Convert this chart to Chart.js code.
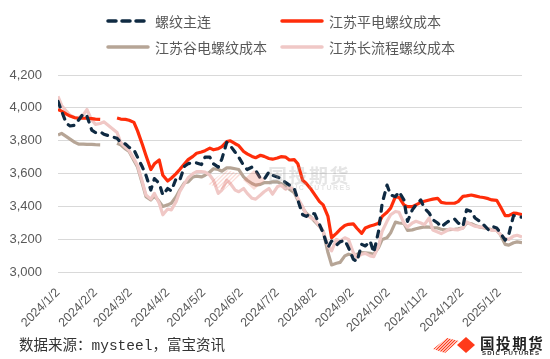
<!DOCTYPE html>
<html>
<head>
<meta charset="utf-8">
<script src="https://cdn.jsdelivr.net/npm/chart.js@4.4.1/dist/chart.umd.min.js"></script>
<style>
  html, body { margin: 0; padding: 0; background: #fff; }
  #wrap { position: relative; width: 550px; height: 359px; overflow: hidden; }
  #c { position: absolute; left: 0; top: 0; }
  .lg { position: absolute; height: 20px; display: flex; align-items: center;
        font-family: "Noto Sans CJK SC", sans-serif; font-size: 14px; color: #595959; white-space: nowrap; }
  .lg svg { margin-right: 4px; }
  #src { position: absolute; left: 19px; top: 337px; font-family: "Liberation Mono", "Noto Sans CJK SC", monospace;
         font-size: 14.5px; color: #333; white-space: nowrap; line-height: 18px; }
  #logo { position: absolute; left: 432px; top: 334px; width: 118px; height: 25px; }
  #logo .cn { position: absolute; left: 48px; top: 0px; font-family: "Noto Sans CJK SC", sans-serif; font-weight: 700;
              font-size: 14.5px; letter-spacing: 1.6px; color: #222; line-height: 17px; white-space: nowrap; }
  #logo .en { position: absolute; left: 50px; top: 16px; font-family: "Liberation Sans", sans-serif; font-weight: 700;
              font-size: 6px; letter-spacing: 1.15px; color: #222; line-height: 7px; white-space: nowrap; }
  #wm { position: absolute; left: 206px; top: 164px; width: 150px; height: 30px; opacity: 0.28; pointer-events: none; }
  #wm .cn { position: absolute; left: 62px; top: 0px; font-family: "Noto Sans CJK SC", sans-serif; font-weight: 700;
            font-size: 19px; letter-spacing: 1.5px; color: #a0a0a0; line-height: 22px; white-space: nowrap; }
  #wm .en { position: absolute; left: 77px; top: 20px; font-family: "Liberation Sans", sans-serif; font-weight: 700;
            font-size: 7px; letter-spacing: 1.4px; color: #a0a0a0; line-height: 8px; white-space: nowrap; }
</style>
</head>
<body>
<div id="wrap">
  <canvas id="c" width="550" height="359"></canvas>

  <div class="lg" style="left:105px; top:11px;">
    <svg width="46" height="8"><line x1="3" y1="4" x2="43" y2="4" stroke="#0f2a42" stroke-width="3.5" stroke-linecap="round" stroke-dasharray="8,6"/></svg>螺纹主连</div>
  <div class="lg" style="left:279px; top:11px;">
    <svg width="46" height="8"><line x1="3" y1="4" x2="43" y2="4" stroke="#ff2d0a" stroke-width="3.5" stroke-linecap="round"/></svg>江苏平电螺纹成本</div>
  <div class="lg" style="left:105px; top:37px;">
    <svg width="46" height="8"><line x1="3" y1="4" x2="43" y2="4" stroke="#b6a596" stroke-width="3.5" stroke-linecap="round"/></svg>江苏谷电螺纹成本</div>
  <div class="lg" style="left:279px; top:37px;">
    <svg width="46" height="8"><line x1="3" y1="4" x2="43" y2="4" stroke="#f0c8c6" stroke-width="3.5" stroke-linecap="round"/></svg>江苏长流程螺纹成本</div>

  <div id="wm">
    <svg width="60" height="30" style="position:absolute;left:0;top:0">
      <defs><clipPath id="wclip"><polygon points="2,20 20,6 36,10 18,26"/></clipPath></defs>
      <g clip-path="url(#wclip)" stroke="#f08070" stroke-width="1.3">
        <line x1="-10" y1="30" x2="20" y2="0"/><line x1="-6" y1="30" x2="24" y2="0"/><line x1="-2" y1="30" x2="28" y2="0"/>
        <line x1="2" y1="30" x2="32" y2="0"/><line x1="6" y1="30" x2="36" y2="0"/><line x1="10" y1="30" x2="40" y2="0"/>
        <line x1="14" y1="30" x2="44" y2="0"/><line x1="18" y1="30" x2="48" y2="0"/>
      </g>
      <polygon points="48,6 59,16 48,26 37,16" fill="#f08070"/>
    </svg>
    <div class="cn">国投期货</div>
    <div class="en">SDIC FUTURES</div>
  </div>

  <div id="src">数据来源：mysteel，富宝资讯</div>

  <div id="logo">
    <svg width="46" height="20" style="position:absolute;left:0;top:2px">
      <defs><clipPath id="lclip"><polygon points="1,13 15,2 27,5 13,17"/></clipPath></defs>
      <g clip-path="url(#lclip)" stroke="#ff3a1a" stroke-width="1.2">
        <line x1="-8" y1="20" x2="12" y2="0"/><line x1="-5" y1="20" x2="15" y2="0"/><line x1="-2" y1="20" x2="18" y2="0"/>
        <line x1="1" y1="20" x2="21" y2="0"/><line x1="4" y1="20" x2="24" y2="0"/><line x1="7" y1="20" x2="27" y2="0"/>
        <line x1="10" y1="20" x2="30" y2="0"/><line x1="13" y1="20" x2="33" y2="0"/><line x1="16" y1="20" x2="36" y2="0"/>
      </g>
      <polygon points="34,1 43,9 34,17 25,9" fill="#ff3a1a"/>
    </svg>
    <div class="cn">国投期货</div>
    <div class="en">SDIC FUTURES</div>
  </div>
</div>

<script>
const dates = [
  "2024-01-02","2024-01-05","2024-01-09","2024-01-12","2024-01-16","2024-01-19","2024-01-23","2024-01-26","2024-01-30",
  "2024-02-02","2024-02-06","2024-02-09","2024-02-13","2024-02-16","2024-02-20","2024-02-23","2024-02-27",
  "2024-03-01","2024-03-05","2024-03-08","2024-03-12","2024-03-15","2024-03-19","2024-03-22","2024-03-26","2024-03-29",
  "2024-04-02","2024-04-05","2024-04-09","2024-04-12","2024-04-16","2024-04-19","2024-04-23","2024-04-26","2024-04-30",
  "2024-05-03","2024-05-07","2024-05-10","2024-05-14","2024-05-17","2024-05-21","2024-05-24","2024-05-28","2024-05-31",
  "2024-06-04","2024-06-07","2024-06-11","2024-06-14","2024-06-18","2024-06-21","2024-06-25","2024-06-28",
  "2024-07-02","2024-07-05","2024-07-09","2024-07-12","2024-07-16","2024-07-19","2024-07-23","2024-07-26","2024-07-30",
  "2024-08-02","2024-08-06","2024-08-09","2024-08-13","2024-08-16","2024-08-20","2024-08-23","2024-08-27","2024-08-30",
  "2024-09-03","2024-09-06","2024-09-10","2024-09-13","2024-09-17","2024-09-20","2024-09-24","2024-09-27",
  "2024-10-01","2024-10-04","2024-10-08","2024-10-11","2024-10-15","2024-10-18","2024-10-22","2024-10-25","2024-10-29",
  "2024-11-01","2024-11-05","2024-11-08","2024-11-12","2024-11-15","2024-11-19","2024-11-22","2024-11-26","2024-11-29",
  "2024-12-03","2024-12-06","2024-12-10","2024-12-13","2024-12-17","2024-12-20","2024-12-24","2024-12-27","2024-12-31",
  "2025-01-03","2025-01-07","2025-01-10","2025-01-14","2025-01-17","2025-01-21"
];

// 螺纹主连
const rebarMain = [
  4040,3980,3905,3890,3895,3925,3965,3950,3865,
  3850,3855,3840,null,null,3815,3790,3780,
  3760,3745,3700,3640,3590,3500,3570,3540,3470,
  3510,3495,3570,3560,3645,3660,3668,3665,3655,
  3700,3700,3660,3640,3690,3790,3770,3730,3700,
  3650,3625,3640,3620,3570,3565,3610,3590,
  3580,3570,3545,3530,3510,3440,3350,3340,3360,
  3355,3290,3240,3150,3190,3165,3185,3195,3150,
  3080,3065,3170,3160,3190,3120,3250,3420,
  3530,3470,3460,3490,3440,3310,3380,3410,3440,
  3390,3360,3320,3300,3275,3300,3315,3325,3300,
  3280,3380,3370,3330,3310,3290,3260,3280,3270,
  3240,3195,3230,3345,3340,3335
];

// 江苏平电螺纹成本
const flatPowerCost = [
  3991,3980,3962,3950,3940,3937,3937,3937,3935,
  3932,3930,null,null,null,3938,3932,3930,
  3925,3912,3860,3777,3710,3625,3660,3683,3590,
  3555,3572,3600,3625,3660,3685,3705,3724,3732,
  3740,3755,3745,3752,3765,3795,3800,3782,3770,
  3735,3720,3705,3697,3712,3705,3692,3688,
  3695,3703,3700,3683,3685,3660,3560,3540,3505,
  3472,3430,3410,3340,3210,3237,3260,3285,3292,
  3295,3268,3237,3270,3282,3288,3298,3340,
  3365,3390,3460,3455,3410,3399,3399,3410,3425,
  3432,3440,3445,3450,3425,3420,3420,3420,3430,
  3462,3465,3470,3465,3458,3455,3448,3440,3438,
  3400,3345,3345,3360,3358,3350
];

// 江苏谷电螺纹成本
const valleyPowerCost = [
  3835,3845,3825,3810,3790,3780,3780,3778,3778,
  3776,3775,null,null,null,3785,3775,3750,
  3735,3680,3640,3540,3460,3440,3465,3430,3400,
  3410,3420,3460,3500,3545,3550,3580,3585,3580,
  3590,3610,3630,3625,3615,3635,3635,3630,3625,
  3580,3560,3540,3530,3535,3545,3545,3550,
  3550,3540,3522,3505,3485,3440,3390,3360,3335,
  3310,3280,3250,3120,3045,3055,3060,3100,3110,
  3105,3110,3120,3118,3115,3110,3150,3200,
  3210,3240,3305,3300,3298,3255,3258,3265,3272,
  3276,3275,3272,3270,3262,3258,3260,3262,3265,
  3270,3300,3295,3285,3275,3272,3265,3258,3255,
  3230,3170,3165,3180,3185,3180
];

// 江苏长流程螺纹成本
const longProcessCost = [
  4070,4015,3980,3955,3940,3940,3957,3990,3926,
  3900,3905,3915,null,null,3850,3790,3760,
  3740,3690,3650,3550,3470,3445,3480,3420,3350,
  3385,3380,3430,3490,3540,3575,3600,3612,3612,
  3610,3590,3560,3480,3500,3560,3540,3500,3490,
  3510,3480,3450,3445,3470,3490,3510,3475,
  3520,3530,3505,3520,3500,3450,3400,3350,3330,
  3320,3280,3250,3160,3130,3200,3190,3210,3200,
  3120,3090,3110,3115,3100,3095,3160,3250,
  3310,3350,3370,3365,3300,3275,3300,3310,3300,
  3290,3330,3257,3245,3235,3250,3265,3260,3258,
  3270,3306,3290,3280,3275,3275,3265,3255,3255,
  3230,3205,3200,3220,3225,3215
];

const tickLabels = ["2024/1/2","2024/2/2","2024/3/2","2024/4/2","2024/5/2","2024/6/2","2024/7/2",
                    "2024/8/2","2024/9/2","2024/10/2","2024/11/2","2024/12/2","2025/1/2"];

const DAY = 86400000;
const t0 = Date.UTC(2024, 0, 2);
function dayOf(s) {
  const p = s.split(/[-\/]/).map(Number);
  return Math.round((Date.UTC(p[0], p[1] - 1, p[2]) - t0) / DAY);
}
const tickDays = tickLabels.map(dayOf);
const pts = vals => dates.map((d, i) => ({ x: dayOf(d), y: vals[i] }));

const font = "'Liberation Sans', Arial, sans-serif";
const grey = "#595959";

new Chart(document.getElementById("c"), {
  type: "line",
  data: {
    datasets: [
      { label: "螺纹主连", data: pts(rebarMain), borderColor: "#0f2a42", borderWidth: 3.2,
        borderDash: [6, 7], borderCapStyle: "round", spanGaps: true, order: 1 },
      { label: "江苏平电螺纹成本", data: pts(flatPowerCost), borderColor: "#ff2d0a", borderWidth: 3.2,
        spanGaps: false, order: 2 },
      { label: "江苏谷电螺纹成本", data: pts(valleyPowerCost), borderColor: "#b6a596", borderWidth: 3.2,
        spanGaps: false, order: 4 },
      { label: "江苏长流程螺纹成本", data: pts(longProcessCost), borderColor: "#f0c8c6", borderWidth: 3.2,
        spanGaps: true, order: 3 },
    ],
  },
  options: {
    responsive: false,
    animation: false,
    layout: { padding: { top: 75, right: 28, left: 0, bottom: 0 } },
    elements: { point: { radius: 0 }, line: { tension: 0, borderJoinStyle: "round" } },
    plugins: { legend: { display: false }, tooltip: { enabled: false } },
    scales: {
      x: {
        type: "linear",
        min: 0,
        max: 385,
        grid: { display: false },
        border: { display: false },
        afterBuildTicks: (s) => { s.ticks = tickDays.map((v) => ({ value: v })); },
        afterFit: (s) => { s.height = 86.7; },
        ticks: {
          autoSkip: false,
          minRotation: 45,
          maxRotation: 45,
          padding: 5,
          color: grey,
          font: { family: font, size: 12.5 },
          callback: (v) => tickLabels[tickDays.indexOf(v)],
        },
      },
      y: {
        min: 3000,
        max: 4200,
        afterFit: (s) => { s.width = 58; },
        grid: { color: "#d9d9d9", lineWidth: 1, drawTicks: false },
        border: { display: false },
        ticks: {
          stepSize: 200,
          padding: 16,
          color: grey,
          font: { family: font, size: 13 },
          callback: (v) => v.toLocaleString("en-US"),
        },
      },
    },
  },
});
</script>
</body>
</html>
